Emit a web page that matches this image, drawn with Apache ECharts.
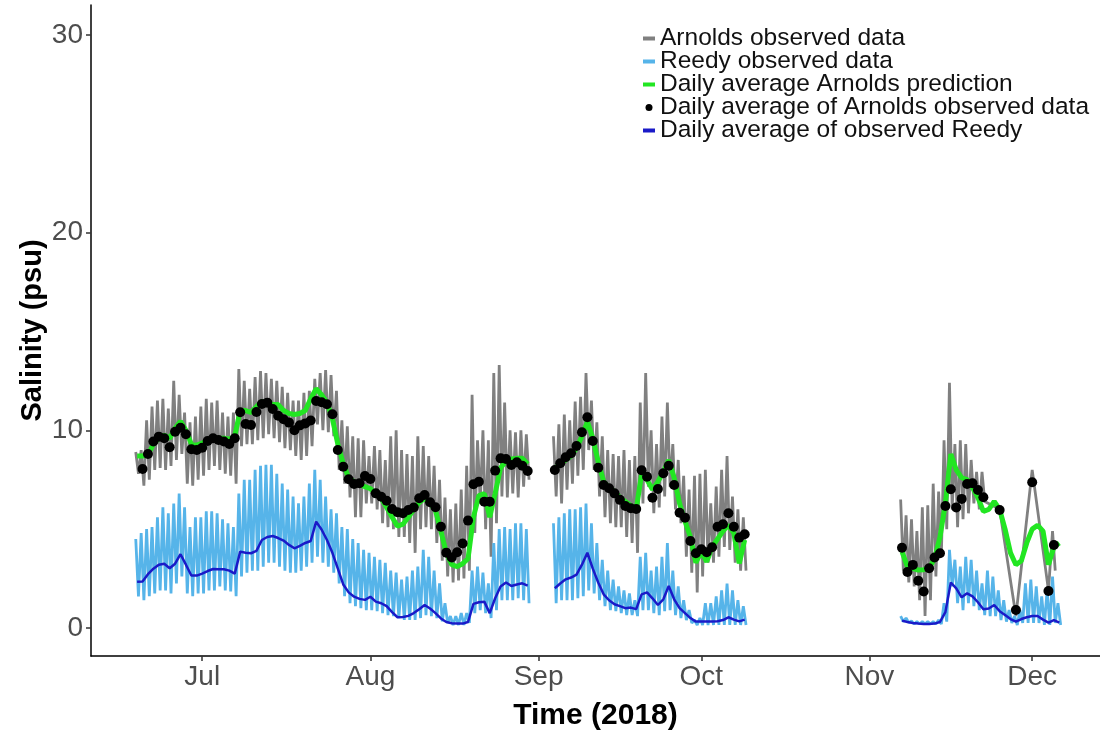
<!DOCTYPE html>
<html>
<head>
<meta charset="utf-8">
<script src="https://cdn.jsdelivr.net/npm/echarts@6/dist/echarts.min.js"></script>
<style>
  html, body { margin: 0; padding: 0; background: #ffffff; }
  #chart { width: 1100px; height: 733px; }
</style>
</head>
<body>
<div id="chart"></div>
<script>
// ---- Axis ticks (x = day of year 2018, Jan 1 = 0) ----
const monthTicks = [181, 212, 243, 273, 304, 334];
const monthLabels = ['Jul', 'Aug', 'Sep', 'Oct', 'Nov', 'Dec'];
const salinityTicks = [0, 10, 20, 30];

// ---- Data segments: first day of each segment ----
const segStarts = [169, 246, 310];

// Arnolds observed data (tidal): daily high / low (psu); null = no reading that day
const arnoldsObsMax = [
  [8.9, 9.0, 10.5, 11.2, 11.5, 11.6, 11.1, 12.5, 11.8, 10.9,
   10.4, 10.7, 11.2, 11.6, 11.4, 11.5, 10.9, 10.7, 10.9, 13.1,
   12.5, 12.1, 12.7, 13.0, 12.9, 12.6, 12.5, 12.2, 11.9, 11.5,
   11.5, 11.9, 12.0, 12.6, 12.9, 13.05, 12.8, 12.0, 10.5, 10.2,
   9.7, 9.6, 9.5, 8.7, 9.2, 9.0, 8.5, 9.7, 10.0, 9.0,
   8.8, 8.7, 9.7, 9.2, 8.7, 8.2, 7.5, 6.6, 6.0, 6.3,
   7.0, 8.2, 11.8, 9.5, 10.0, 9.5, 12.9, 13.3, 11.4, 10.0,
   9.9, 10.0, 9.8],
  [9.7, 10.3, 10.8, 10.5, 11.45, 11.7, 12.9, 11.5, 10.4, 9.7,
   9.0, 8.8, 8.7, 9.0, 8.5, 8.7, 11.4, 12.9, 10.0, 9.3,
   10.7, 11.4, 9.3, 8.5, 7.7, 7.0, 7.7, 7.8, 8.0, 6.3,
   7.15, 8.0, 8.7, 6.65, 6.0, 5.6],
  [6.5, 5.7, 5.5, 4.9, 6.1, 6.2, 7.3, 6.9, 9.5, 12.4,
   9.3, 9.5, 9.3, 8.5, 7.9, 7.9, null, null, 6.0, null,
   null, 0.6, null, null, 8.0, null, null, 1.9, 4.9, null]
];
const arnoldsObsMin = [
  [7.8, 7.2, 7.5, 8.0, 8.1, 8.0, 8.2, 8.5, 8.8, 7.3,
   7.2, 7.5, 7.7, 8.0, 8.2, 8.0, 7.8, 7.7, 7.3, 9.2,
   9.3, 9.3, 9.5, 9.6, 9.8, 9.6, 9.4, 9.1, 9.0, 8.7,
   8.5, 8.7, 9.2, 10.3, 10.0, 9.9, 9.7, 8.0, 7.3, 6.6,
   5.6, 5.6, 6.3, 6.3, 6.0, 5.3, 5.1, 5.0, 4.6, 4.6,
   4.3, 3.8, 5.0, 5.1, 5.0, 4.3, 3.4, 2.6, 2.3, 2.4,
   2.5, 2.9, 4.8, 6.3, 5.0, 3.6, 5.3, 6.65, 6.6, 6.8,
   6.6, 7.15, 7.5],
  [6.65, 6.3, 7.0, 7.3, 7.7, 8.0, 9.0, 8.0, 6.65, 5.6,
   5.3, 5.1, 5.1, 4.6, 4.3, 3.8, 6.3, 7.15, 5.8, 6.1,
   6.65, 7.15, 6.0, 5.3, 3.6, 2.8, 1.8, 2.6, 3.3, 3.3,
   3.6, 4.1, 3.95, 3.3, 2.9, 2.9],
  [2.9, 2.3, 2.1, 1.4, 0.6, 1.4, 2.6, 3.6, 5.0, 6.0,
   5.1, 5.5, 5.8, 6.3, 6.0, 6.4, null, null, 6.0, null,
   null, 0.6, null, null, 8.0, null, null, 1.9, 2.9, null]
];

// Reedy observed data (tidal): daily high / low (psu)
const reedyObsMax = [
  [4.5, 4.8, 5.0, 5.1, 5.6, 6.1, 5.8, 6.3, 6.8, 6.1,
   5.1, 5.6, 5.6, 5.9, 5.9, 5.8, 5.5, 5.3, 5.1, 6.8,
   7.5, 7.5, 8.0, 8.2, 8.25, 8.25, 7.8, 7.3, 7.0, 6.65,
   6.3, 6.65, 7.3, 8.0, 7.5, 6.65, 6.0, 5.8, 5.1, 5.0,
   4.5, 4.3, 3.95, 3.8, 3.6, 3.45, 3.3, 2.9, 2.8, 2.45,
   2.6, 2.9, 3.1, 3.95, 3.6, 2.9, 2.25, 1.25, 0.6, 0.6,
   0.75, 0.75, 2.9, 3.1, 2.8, 2.25, 4.3, 5.0, 5.1, 5.0,
   5.3, 5.3, 5.0],
  [5.3, 5.6, 5.8, 6.0, 6.0, 6.1, 6.3, 5.3, 4.3, 3.45,
   2.9, 2.45, 2.1, 1.9, 1.75, 1.4, 3.6, 3.8, 2.9, 3.1,
   3.6, 4.3, 2.9, 2.1, 1.4, 0.9, 0.4, 0.5, 1.25, 1.25,
   1.6, 1.9, 2.25, 1.9, 1.4, 1.1],
  [0.6, 0.5, 0.35, 0.32, 0.32, 0.32, 0.32, 0.4, 1.25, 3.95,
   3.45, 3.1, 3.6, 3.45, 2.9, 2.25, 2.9, 2.6, 1.9, 1.4,
   0.9, 0.6, 0.9, 2.25, 2.45, 2.1, 1.6, 1.9, 2.6, 1.25]
];
const reedyObsMin = [
  [1.6, 1.4, 1.6, 1.75, 1.9, 1.9, 1.75, 2.25, 2.6, 1.75,
   1.6, 1.75, 1.75, 1.9, 1.9, 2.1, 1.9, 1.85, 1.6, 2.6,
   2.8, 2.9, 2.9, 3.1, 3.3, 3.3, 3.1, 2.9, 2.8, 2.8,
   2.9, 3.1, 3.3, 3.6, 3.3, 3.1, 2.8, 2.25, 1.6, 1.25,
   1.1, 1.0, 0.9, 0.9, 0.85, 0.75, 0.65, 0.6, 0.5, 0.4,
   0.4, 0.4, 0.5, 0.65, 0.6, 0.5, 0.33, 0.25, 0.15, 0.15,
   0.15, 0.25, 0.75, 0.9, 0.75, 0.5, 0.9, 1.4, 1.4, 1.4,
   1.5, 1.4, 1.25],
  [1.25, 1.4, 1.4, 1.4, 1.5, 1.6, 1.9, 1.75, 1.4, 1.1,
   0.9, 0.85, 0.75, 0.65, 0.65, 0.6, 0.9, 0.9, 0.75, 0.65,
   0.85, 0.9, 0.65, 0.5, 0.4, 0.25, 0.15, 0.15, 0.15, 0.15,
   0.15, 0.15, 0.15, 0.15, 0.15, 0.15],
  [0.32, 0.27, 0.2, 0.2, 0.2, 0.2, 0.2, 0.2, 0.32, 2.1,
   1.25, 0.9, 1.25, 1.1, 0.9, 0.65, 0.6, 0.6, 0.4, 0.32,
   0.25, 0.15, 0.25, 0.25, 0.25, 0.25, 0.15, 0.15, 0.25, 0.15]
];

// Daily average Arnolds prediction (psu)
const arnoldsPrediction = [
  [8.7, 8.7, 8.75, 9.3, 9.6, 9.75, 9.6, 10.1, 10.45, 10.0,
   9.3, 9.25, 9.35, 9.5, 9.6, 9.6, 9.6, 9.55, 9.7, 11.0,
   11.0, 10.9, 11.2, 11.45, 11.45, 11.3, 11.3, 11.0, 10.85, 10.8,
   10.85, 11.0, 11.6, 12.1, 11.8, 11.4, 10.6, 9.3, 8.3, 7.6,
   7.4, 7.25, 7.15, 7.05, 6.8, 6.55, 6.1, 5.6, 5.15, 5.25,
   5.6, 6.0, 6.35, 6.55, 6.3, 5.95, 4.9, 3.8, 3.2, 3.1,
   3.25, 3.5, 5.6, 6.7, 6.8, 5.6, 6.8, 8.1, 8.45, 8.55,
   8.58, 8.58, 8.3],
  [8.08, 8.3, 8.5, 8.7, 9.1, 9.7, 10.44, 9.6, 8.4, 7.4,
   7.1, 6.9, 6.6, 6.4, 6.2, 6.0, 7.8, 7.5, 7.0, 7.4,
   7.9, 8.5, 7.6, 6.3, 5.4, 4.6, 3.3, 3.85, 3.35, 4.1,
   4.5, 4.9, 5.2, 4.8, 3.27, 4.45],
  [3.86, 3.1, 3.0, 2.93, 2.95, 3.02, 3.5, 4.6, 6.3, 8.8,
   8.0, 7.6, 7.5, 7.1, 6.6, 5.9, 6.0, 6.4, 6.0, 5.0,
   3.8, 3.2, 3.4, 4.3, 5.0, 5.2, 4.9, 3.2, 4.1, 4.3]
];

// Daily average of Arnolds observed data (psu); null = no daily average
const arnoldsDailyAvg = [
  [null, 8.04, 8.8, 9.43, 9.68, 9.6, 9.14, 9.93, 10.13, 9.8,
   9.04, 9.0, 9.12, 9.46, 9.6, 9.51, 9.43, 9.31, 9.6, 10.91,
   10.32, 10.27, 10.93, 11.33, 11.4, 11.08, 10.74, 10.56, 10.39, 10.0,
   10.25, 10.35, 10.5, 11.48, 11.42, 11.32, 10.81, 9.0, 8.16, 7.52,
   7.28, 7.32, 7.69, 7.54, 6.81, 6.64, 6.44, 6.02, 5.85, 5.8,
   5.97, 6.09, 6.56, 6.73, 6.36, 6.11, 5.12, 3.81, 3.56, 3.83,
   4.27, 5.43, 7.27, 7.4, 6.39, 6.39, 7.96, 8.58, 8.55, 8.25,
   8.38, 8.21, 7.94],
  [7.99, 8.33, 8.64, 8.84, 9.21, 9.9, 10.66, 9.46, 8.11, 7.23,
   7.07, 6.81, 6.48, 6.17, 6.06, 6.02, 7.98, 7.65, 6.59, 7.03,
   7.83, 8.21, 7.23, 5.83, 5.58, 4.4, 3.78, 3.98, 3.83, 4.08,
   5.12, 5.25, 5.8, 5.12, 4.57, 4.74],
  [4.06, 2.83, 3.19, 2.39, 1.84, 3.02, 3.56, 3.78, 6.17, 7.02,
   6.1, 6.53, 7.28, 7.32, 6.98, 6.61, null, null, 5.97, null,
   null, 0.91, null, null, 7.37, null, null, 1.87, 4.2, null]
];

// Daily average of observed Reedy (psu)
const reedyDailyAvg = [
  [2.34, 2.35, 2.72, 3.0, 3.2, 3.25, 3.02, 3.25, 3.73, 3.2,
   2.65, 2.65, 2.75, 2.88, 2.98, 2.97, 2.97, 2.9, 2.75, 3.86,
   3.8, 3.78, 3.9, 4.45, 4.6, 4.65, 4.55, 4.42, 4.2, 4.03,
   4.15, 4.3, 4.4, 5.38, 4.98, 4.45, 3.8, 3.0, 2.2, 1.8,
   1.58, 1.47, 1.42, 1.58, 1.33, 1.25, 1.1, 0.8, 0.54, 0.55,
   0.61, 0.75, 0.95, 1.16, 0.98, 0.75, 0.48, 0.3, 0.24, 0.22,
   0.22, 0.3, 1.22, 1.3, 1.33, 0.75, 1.5, 2.1, 2.3, 2.12,
   2.2, 2.26, 2.14],
  [2.01, 2.25, 2.46, 2.55, 2.7, 3.2, 3.81, 3.0, 2.3, 1.7,
   1.4, 1.2, 1.1, 1.0, 1.03, 0.95, 1.7, 1.8, 1.5, 1.16,
   1.45, 2.12, 1.45, 1.0, 0.75, 0.5, 0.32, 0.32, 0.32, 0.33,
   0.34, 0.4, 0.54, 0.42, 0.33, 0.42],
  [0.37, 0.3, 0.25, 0.22, 0.2, 0.2, 0.22, 0.3, 0.8, 2.3,
   2.0, 1.55, 1.75, 1.6, 1.3, 0.95, 0.98, 1.16, 0.85, 0.65,
   0.45, 0.32, 0.45, 0.54, 0.6, 0.6, 0.42, 0.27, 0.4, 0.27]
];

// ---- Build series data from the arrays ----
function tidalLine(starts, highs, lows) {
  const out = [];
  starts.forEach((s, k) => {
    if (k > 0) out.push([s - 1, null]);
    highs[k].forEach((hi, i) => {
      const lo = lows[k][i];
      if (hi == null) return;
      const d = s + i;
      if (hi === lo) { out.push([d, hi]); }
      else { out.push([d - 0.25, hi]); out.push([d + 0.25, lo]); }
    });
  });
  return out;
}
function dailyLine(starts, vals) {
  const out = [];
  starts.forEach((s, k) => {
    if (k > 0) out.push([s - 1, null]);
    vals[k].forEach((v, i) => { if (v != null) out.push([s + i, v]); });
  });
  return out;
}

const FONT = 'Liberation Sans, Arial, Helvetica, sans-serif';
const dash = 'path://M0,0L12,0M0,1.5L12,1.5L12,5.5L0,5.5ZM0,7L12,7';

const colors = {
  arnoldsObs: '#808080',
  reedyObs: '#56B4E9',
  prediction: '#22e622',
  dots: '#000000',
  reedyAvg: '#1a1ac8'
};

const chart = echarts.init(document.getElementById('chart'), null, { renderer: 'canvas' });
chart.setOption({
  animation: false,
  backgroundColor: '#ffffff',
  textStyle: { fontFamily: FONT },
  grid: { left: 91, right: 0, top: 5, bottom: 77, outerBoundsMode: 'none', containLabel: false },
  legend: {
    orient: 'vertical',
    left: 638,
    top: 21,
    itemWidth: 12,
    itemHeight: 7,
    itemGap: -2,
    textStyle: { fontFamily: FONT, fontSize: 24.5, lineHeight: 22.3, color: '#111111' },
    data: [
      { name: 'Arnolds observed data', icon: dash, itemStyle: { color: colors.arnoldsObs } },
      { name: 'Reedy observed data', icon: dash, itemStyle: { color: colors.reedyObs } },
      { name: 'Daily average Arnolds prediction', icon: dash, itemStyle: { color: colors.prediction } },
      { name: 'Daily average of Arnolds observed data', icon: 'circle', itemStyle: { color: colors.dots, opacity: 1 } },
      { name: 'Daily average of observed Reedy', icon: dash, itemStyle: { color: colors.reedyAvg } }
    ]
  },
  xAxis: {
    type: 'value',
    min: 160.5,
    max: 346.5,
    name: 'Time (2018)',
    nameLocation: 'middle',
    nameGap: 45,
    nameMoveOverlap: false,
    nameTextStyle: { fontFamily: FONT, fontSize: 30, fontWeight: 'bold', color: '#000000' },
    axisLine: { show: true, onZero: false, lineStyle: { color: '#000000', width: 1.5 } },
    axisTick: { show: true, customValues: monthTicks, length: 5, lineStyle: { color: '#333333', width: 1.5 } },
    axisLabel: {
      customValues: monthTicks,
      margin: 7,
      fontFamily: FONT,
      fontSize: 28,
      color: '#4d4d4d',
      formatter: function (v) {
        const i = monthTicks.indexOf(Math.round(v));
        return i >= 0 ? monthLabels[i] : '';
      }
    },
    splitLine: { show: false }
  },
  yAxis: {
    type: 'value',
    min: -1.42,
    max: 31.52,
    name: 'Salinity (psu)',
    nameLocation: 'middle',
    nameGap: 44,
    nameMoveOverlap: false,
    nameTextStyle: { fontFamily: FONT, fontSize: 29, fontWeight: 'bold', color: '#000000' },
    axisLine: { show: true, onZero: false, lineStyle: { color: '#000000', width: 1.5 } },
    axisTick: { show: true, customValues: salinityTicks, length: 5, lineStyle: { color: '#333333', width: 1.5 } },
    axisLabel: {
      customValues: salinityTicks,
      margin: 8,
      fontFamily: FONT,
      fontSize: 28,
      color: '#4d4d4d'
    },
    splitLine: { show: false }
  },
  series: [
    {
      name: 'Arnolds observed data',
      type: 'line',
      data: tidalLine(segStarts, arnoldsObsMax, arnoldsObsMin),
      showSymbol: false,
      symbol: 'none',
      connectNulls: false,
      lineStyle: { color: colors.arnoldsObs, width: 2.8 },
      itemStyle: { color: colors.arnoldsObs },
      z: 1
    },
    {
      name: 'Reedy observed data',
      type: 'line',
      data: tidalLine(segStarts, reedyObsMax, reedyObsMin),
      showSymbol: false,
      symbol: 'none',
      connectNulls: false,
      lineStyle: { color: colors.reedyObs, width: 2.8 },
      itemStyle: { color: colors.reedyObs },
      z: 2
    },
    {
      name: 'Daily average Arnolds prediction',
      type: 'line',
      data: dailyLine(segStarts, arnoldsPrediction),
      showSymbol: false,
      symbol: 'none',
      connectNulls: false,
      lineStyle: { color: colors.prediction, width: 5 },
      itemStyle: { color: colors.prediction },
      z: 3
    },
    {
      name: 'Daily average of Arnolds observed data',
      type: 'scatter',
      data: dailyLine(segStarts, arnoldsDailyAvg).filter(p => p[1] != null),
      symbol: 'circle',
      symbolSize: 10,
      itemStyle: { color: colors.dots, opacity: 1 },
      z: 4
    },
    {
      name: 'Daily average of observed Reedy',
      type: 'line',
      data: dailyLine(segStarts, reedyDailyAvg),
      showSymbol: false,
      symbol: 'none',
      connectNulls: false,
      lineStyle: { color: colors.reedyAvg, width: 2.5 },
      itemStyle: { color: colors.reedyAvg },
      z: 5
    }
  ]
});
</script>
</body>
</html>
